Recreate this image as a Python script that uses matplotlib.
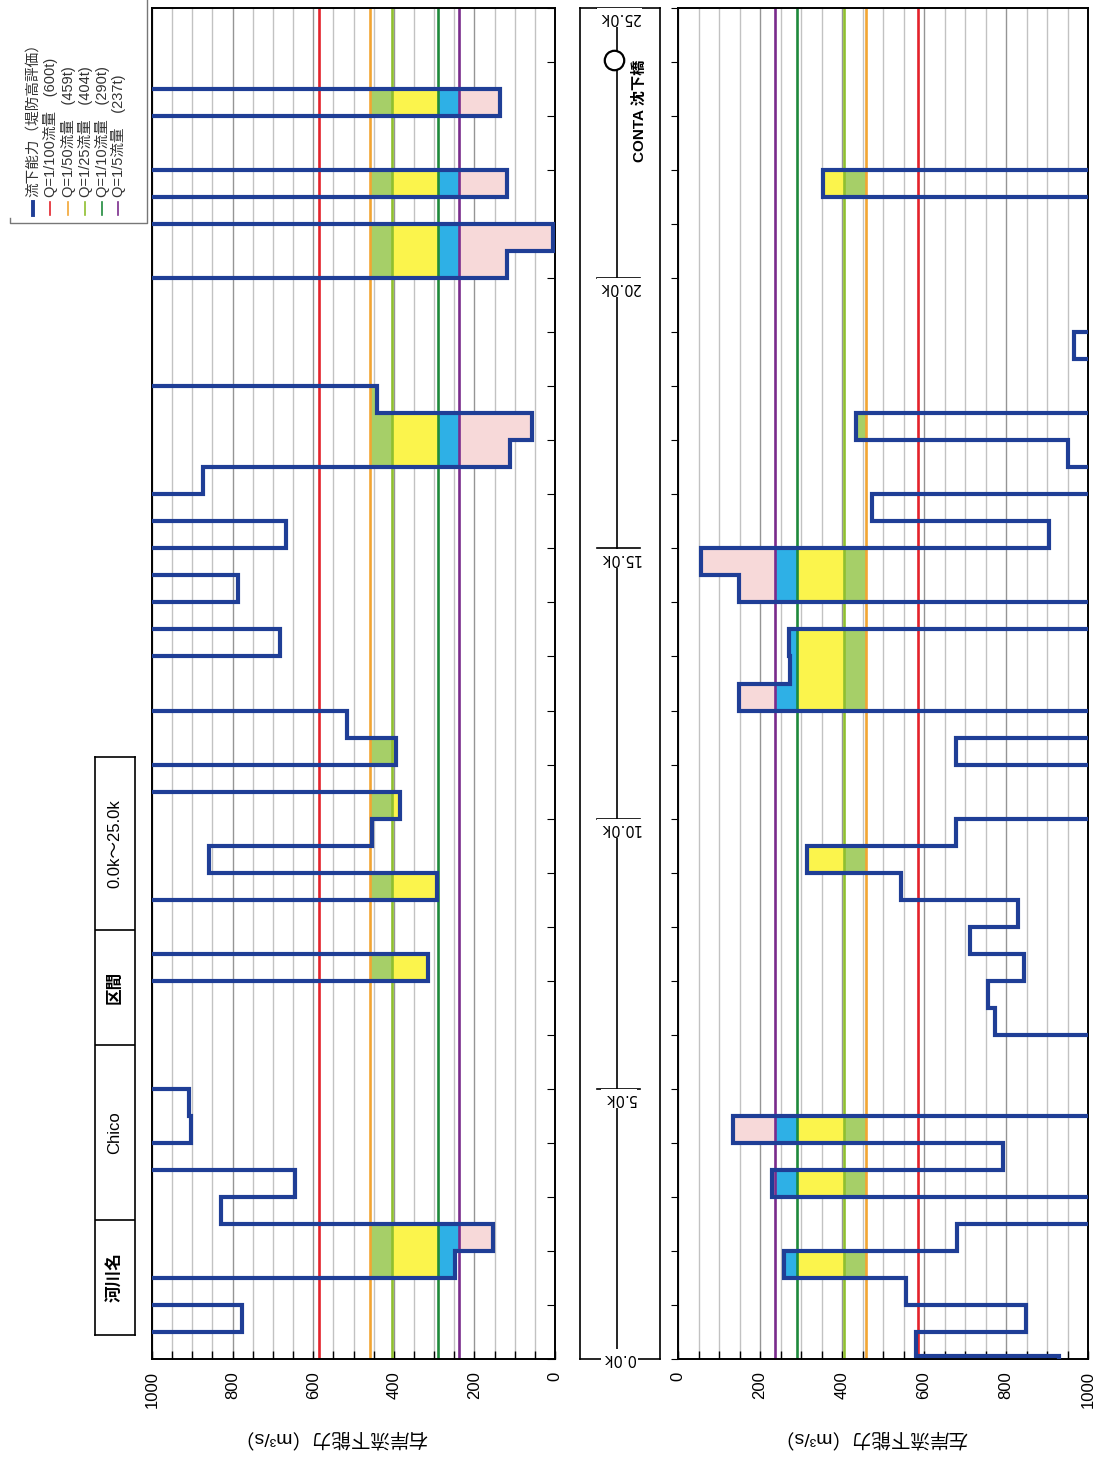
import matplotlib
matplotlib.use('Agg')
import matplotlib.pyplot as plt
from matplotlib.ticker import MultipleLocator

plt.rcParams['font.family'] = ['Liberation Sans', 'Noto Sans CJK JP', 'DejaVu Sans']

W, H = 1101, 1457
OVER = 1100  # capacity beyond the 1000 m3/s axis limit

# ---- data -------------------------------------------------------------
# Right bank (右岸) flow capacity by section (start km; section ends at next start / 25.0k)
right_start = [0.0, 0.5, 1.0, 1.5, 2.0, 2.5, 3.0, 3.5, 4.0, 4.5, 5.0, 7.0, 7.5, 8.5, 9.0,
               9.5, 10.0, 10.5, 11.0, 11.5, 12.0, 13.0, 13.5, 14.0, 14.5, 15.0, 15.5, 16.0,
               16.5, 17.0, 17.5, 18.0, 20.0, 20.5, 21.0, 21.5, 22.0, 23.0, 23.5]
right_cap = [OVER, 777, OVER, 248, 153, 828, 646, OVER, 903, 907, OVER, 315, OVER, 294, 858,
             455, 385, OVER, 394, 516, OVER, 683, OVER, 787, OVER, 667, OVER, 874,
             112, 58, 442, OVER, 120, 5, OVER, 120, OVER, 137, OVER]

# Left bank (左岸) flow capacity by section
left_start = [0.0, 0.05, 0.5, 1.0, 1.5, 2.0, 2.5, 3.0, 3.5, 4.0, 4.5, 6.0, 6.5, 7.0, 7.5,
              8.0, 8.5, 9.0, 9.5, 10.0, 11.0, 11.5, 12.0, 12.5, 13.0, 13.5, 14.0, 14.5,
              15.0, 15.5, 16.0, 16.5, 17.0, 17.5, 18.5, 19.0, 21.5, 22.0]
left_cap = [930, 580, 849, 557, 258, 680, OVER, 230, 792, 135, OVER, 772, 755, 845, 711,
            829, 544, 315, 678, OVER, 678, OVER, 148, 272, 270, OVER, 148, 55,
            906, 473, OVER, 951, 434, OVER, 965, OVER, 354, OVER]

# Design flows (reference lines)
ref_names = ['Q=1/100流量　(600t)', 'Q=1/50流量　(459t)', 'Q=1/25流量　(404t)',
             'Q=1/10流量　(290t)', 'Q=1/5流量　(237t)']
ref_values = [586, 459, 404, 290, 237]
ref_colors = ['#e3222b', '#f2a533', '#8fbf2f', '#1f8a3c', '#7a2c8c']

band_colors = ['#a6cf68', '#fbf44c', '#2eb0e6', '#f7d9d9']

km_labels = ['0.0k', '5.0k', '10.0k', '15.0k', '20.0k', '25.0k']
km_values = [0, 5, 10, 15, 20, 25]
val_ticks = [0, 200, 400, 600, 800, 1000]

header_texts = ['河川名', 'Chico', '区間', '0.0k～25.0k']

STEP_COLOR = '#1f3e96'
END_KM = 25.0


def draw_panel(ax, starts, caps):
    ends = starts[1:] + [END_KM]
    levels = [ref_values[1], ref_values[2], ref_values[3], ref_values[4], 0]
    for s, e, v in zip(starts, ends, caps):
        for i in range(4):
            hi, lo = levels[i], levels[i + 1]
            if v < hi:
                ax.fill_betweenx([s, e], max(v, lo), hi, color=band_colors[i], lw=0, zorder=1)
    for val, col in zip(ref_values, ref_colors):
        ax.axvline(val, color=col, lw=1.9, zorder=2)
    xs, ys = [], []
    for s, e, v in zip(starts, ends, caps):
        xs += [v, v]
        ys += [s, e]
    ax.plot(xs, ys, color=STEP_COLOR, lw=3.0, zorder=3, solid_joinstyle='miter')
    ax.set_ylim(0, END_KM)
    ax.xaxis.set_minor_locator(MultipleLocator(50))
    ax.set_xticks(val_ticks)
    ax.set_xticklabels([str(t) for t in val_ticks])
    ax.grid(which='minor', axis='x', color='#c2c2c2', lw=1.0, zorder=0)
    ax.grid(which='major', axis='x', color='#959595', lw=1.0, zorder=0)
    ax.set_axisbelow(True)
    ax.tick_params(axis='x', which='both', direction='in', length=6, width=1,
                   pad=9, labelsize=12, labelrotation=90)
    ax.set_yticks(range(0, 26))
    ax.set_yticklabels([])
    for sp in ax.spines.values():
        sp.set_linewidth(1.4)
        sp.set_color('black')


fig = plt.figure(figsize=(W / 100, H / 100), dpi=100)

y_bot = 1359
ax_h = (y_bot - 8) / H

axL = fig.add_axes([152 / W, 1 - y_bot / H, 403 / W, ax_h])
draw_panel(axL, right_start, right_cap)
axL.set_xlim(1000, 0)
axL.yaxis.tick_right()
axL.tick_params(axis='y', direction='in', length=6, labelright=False, labelleft=False)

axR = fig.add_axes([678 / W, 1 - y_bot / H, 410 / W, ax_h])
draw_panel(axR, left_start, left_cap)
axR.set_xlim(0, 1000)
axR.yaxis.tick_left()
axR.tick_params(axis='y', direction='out', length=5, labelleft=False)

# ---- middle distance strip ----
axM = fig.add_axes([580 / W, 1 - y_bot / H, 80 / W, ax_h])
axM.set_xlim(0, 1)
axM.set_ylim(0, END_KM)
axM.set_xticks([])
axM.set_yticks([])
for sp in axM.spines.values():
    sp.set_linewidth(1.2)
cx = 0.4625
axM.plot([cx, cx], [0, END_KM], color='black', lw=1.2, zorder=1)
for lab, k in zip(km_labels, km_values):
    if k == 0:
        axM.text(cx + 0.03, k, lab, rotation=180, ha='center', va='center', fontsize=10.5,
                 family=['DejaVu Sans'],
                 bbox=dict(facecolor='white', edgecolor='none', pad=1.5), zorder=3)
    else:
        axM.plot([0.21, 0.75], [k, k], color='black', lw=1.2, zorder=2)
        axM.text(cx + 0.03, k - 0.04, lab, rotation=180, ha='center', va='top', fontsize=10.5,
                 family=['DejaVu Sans'],
                 bbox=dict(facecolor='white', edgecolor='none', pad=1.5), zorder=3)
axM.plot([cx - 0.04], [24.04], marker='o', markersize=14, markerfacecolor='white',
         markeredgecolor='black', markeredgewidth=1.6, zorder=4)
axM.text(0.75, 23.1, 'CONTA 沈下橋', rotation=90, ha='center', va='center', fontsize=11,
         fontweight='bold', zorder=4)

# ---- header table ----
axT = fig.add_axes([95 / W, 1 - 1335 / H, 40 / W, (1335 - 757) / H])
axT.set_xlim(0, 1)
axT.set_ylim(1335, 757)
axT.set_xticks([])
axT.set_yticks([])
for sp in axT.spines.values():
    sp.set_linewidth(1.2)
bounds = [1335, 1220, 1045, 930, 757]
for b in bounds[1:-1]:
    axT.plot([0, 1], [b, b], color='black', lw=1.2)
for i, t in enumerate(header_texts):
    yc = (bounds[i] + bounds[i + 1]) / 2
    bold = t in ('河川名', '区間')
    axT.text(0.5, yc, t, rotation=90, ha='center', va='center', fontsize=12,
             fontweight='bold' if bold else 'normal')

# ---- legend ----
axG = fig.add_axes([0, 1 - 228 / H, 150 / W, 228 / H])
axG.set_xlim(0, 150)
axG.set_ylim(228, 0)
axG.axis('off')
axG.plot([10, 10, 147, 147], [218, 223, 223, 0], color='#777777', lw=1.0)
leg_x = [33, 50, 68, 85, 102, 118]
leg_names = ['流下能力（堤防高評価）'] + ref_names
leg_cols = [STEP_COLOR] + ref_colors
for i, (x, name, col) in enumerate(zip(leg_x, leg_names, leg_cols)):
    axG.text(x, 197, name, rotation=90, ha='center', va='bottom', fontsize=10.5,
             color='#333333')
    axG.plot([x, x], [202, 215], color=col, lw=2.8 if i == 0 else 1.2)

# ---- axis titles (upside down) ----
fig.text(330 / W, 1 - 1437 / H, '右岸流下能力（m³/s）', rotation=180, ha='center', va='center',
         fontsize=14)
fig.text(870 / W, 1 - 1437 / H, '左岸流下能力（m³/s）', rotation=180, ha='center', va='center',
         fontsize=14)

fig.savefig('out.png', dpi=100)
